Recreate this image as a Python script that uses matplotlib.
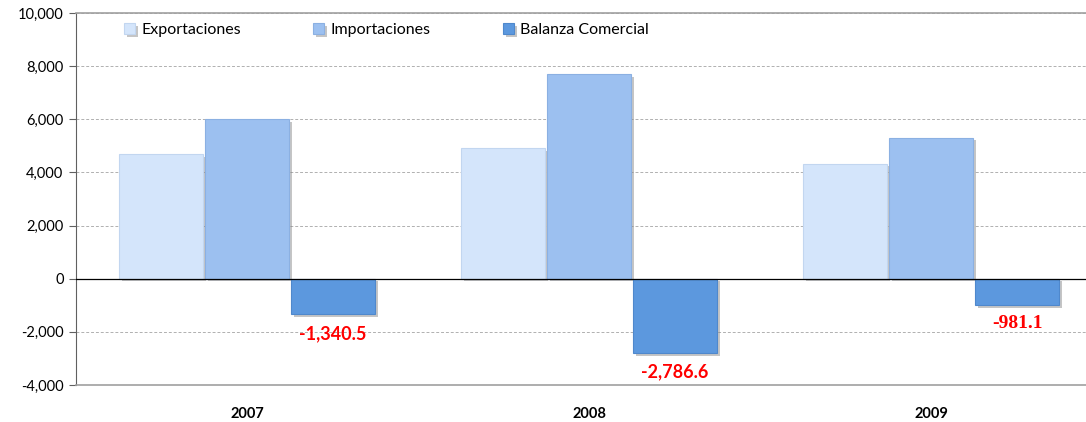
import numpy as np
import matplotlib
matplotlib.use('Agg')
import matplotlib.pyplot as plt
import matplotlib.patheffects as pe
from matplotlib.ticker import FuncFormatter

years = ['2007', '2008', '2009']
exportaciones = [4680.0, 4920.0, 4330.0]
importaciones = [6020.5, 7706.6, 5311.1]
balanza = [-1340.5, -2786.6, -981.1]
etiquetas = ['-1,340.5', '-2,786.6', '-981.1']

plt.rcParams['font.family'] = ['Lato', 'DejaVu Sans']

fig = plt.figure(figsize=(10.86, 4.22), dpi=100)
# plot area runs past the right edge, like the original
ax = fig.add_axes([76/1086, 37/422, 1026/1086, 372/422])

x = np.arange(len(years))
w = 0.2456
off = 0.2515
shadow = [pe.SimplePatchShadow(offset=(2, -2), shadow_rgbFace='#808080', alpha=0.45), pe.Normal()]

b1 = ax.bar(x - off, exportaciones, w, color='#d4e5fb', edgecolor='#c2d6f0', linewidth=0.8,
            label='Exportaciones', zorder=3)
b2 = ax.bar(x, importaciones, w, color='#9cc0f0', edgecolor='#8bb0e2', linewidth=0.8,
            label='Importaciones', zorder=3)
b3 = ax.bar(x + off, balanza, w, color='#5c98de', edgecolor='#4f88cc', linewidth=0.8,
            label='Balanza Comercial', zorder=3)
for bars in (b1, b2, b3):
    for p in bars:
        p.set_path_effects(shadow)

for i, v in enumerate(balanza):
    if i == 2:
        ax.text(x[i] + off, v - 380, etiquetas[i], color='red', ha='center', va='top',
                fontsize=14, fontweight='bold', family=['Liberation Serif', 'DejaVu Serif'])
    else:
        ax.text(x[i] + off, v - 400, etiquetas[i], color='red', ha='center', va='top',
                fontsize=13, fontweight='bold')

ax.axhline(0, color='black', linewidth=0.9, zorder=4)
ax.set_ylim(-4000, 10000)
ax.set_xlim(-0.5, 2.5)
ax.set_yticks(np.arange(-4000, 10001, 2000))
ax.yaxis.set_major_formatter(FuncFormatter(lambda v, p: f'{int(v):,}'))
ax.grid(axis='y', color='#b0b0b0', linestyle=(0, (3, 2)), linewidth=0.7, zorder=0)

ax.set_xticks(x)
ax.set_xticklabels(years, fontweight='bold', fontsize=10.5)
ax.tick_params(axis='x', length=0, pad=16)
ax.tick_params(axis='y', labelsize=10.5, direction='out', length=5, color='#606060', pad=4)

ax.spines['right'].set_visible(False)
ax.spines['top'].set_color('#a0a0a0')
ax.spines['bottom'].set_color('#a0a0a0')
ax.spines['left'].set_color('#606060')
ax.spines['top'].set_linewidth(1.2)
ax.spines['bottom'].set_linewidth(1.2)

leg = ax.legend(loc='upper left', ncol=3, frameon=False, fontsize=11.5,
                bbox_to_anchor=(0.033, 1.012), columnspacing=4.5, handlelength=0.7,
                handleheight=0.7, handletextpad=0.4)

fig.savefig('out.png', dpi=100)
